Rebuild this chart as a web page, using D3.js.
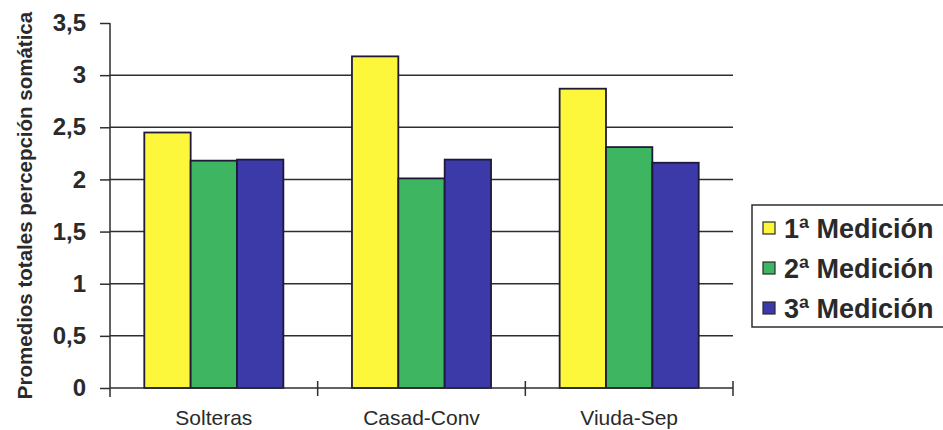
<!DOCTYPE html>
<html>
<head>
<meta charset="utf-8">
<script src="https://cdn.jsdelivr.net/npm/d3@7"></script>
<style>
  html, body { margin: 0; padding: 0; background: #fff; }
  svg { display: block; }
  text { font-family: "Liberation Sans", Arial, sans-serif; fill: #2a2a2a; }
</style>
</head>
<body>
<svg id="chart" width="943" height="430"></svg>
<script>
// Groups and the three measurement series
const categories = ["Solteras", "Casad-Conv", "Viuda-Sep"];
const seriesNames = ["1ª Medición", "2ª Medición", "3ª Medición"];
const medicion1 = [2.45, 3.18, 2.87];
const medicion2 = [2.18, 2.01, 2.31];
const medicion3 = [2.19, 2.19, 2.16];
const yTicks = [0, 0.5, 1, 1.5, 2, 2.5, 3, 3.5];
const yTitle = "Promedios totales percepción somática";
const colors = ["#fcf73a", "#3db561", "#3c3aa9"];

const series = [medicion1, medicion2, medicion3];
const rows = categories.map((c, i) => ({
  category: c,
  values: series.map((s, k) => ({ key: seriesNames[k], k, value: s[i] }))
}));

const svg = d3.select("#chart");
const plot = { left: 110, right: 733, top: 23, bottom: 388 };

const x0 = d3.scaleBand().domain(categories).range([plot.left, plot.right]).padding(0);
const x1 = d3.scaleBand().domain(seriesNames).range([0, x0.bandwidth()])
  .paddingInner(0).paddingOuter(0.74);
const y = d3.scaleLinear().domain([0, 3.5]).range([plot.bottom, plot.top]);
const fmt = d => String(d).replace(".", ",");
const axisColor = "#2e2e2e";

// Horizontal gridlines (none at the top of the scale)
svg.append("g")
  .selectAll("line")
  .data(yTicks.filter(t => t > 0 && t < 3.5))
  .join("line")
  .attr("x1", plot.left).attr("x2", plot.right)
  .attr("y1", d => y(d)).attr("y2", d => y(d))
  .attr("stroke", axisColor).attr("stroke-width", 1.5);

// Bars
const groups = svg.append("g").selectAll("g")
  .data(rows).join("g")
  .attr("transform", d => `translate(${x0(d.category)},0)`);
groups.selectAll("rect")
  .data(d => d.values).join("rect")
  .attr("x", d => x1(d.key))
  .attr("y", d => y(d.value))
  .attr("width", x1.bandwidth())
  .attr("height", d => y(0) - y(d.value))
  .attr("fill", d => colors[d.k])
  .attr("stroke", "#1d1a3a").attr("stroke-width", 1.8);

// Y axis
const yAxis = svg.append("g")
  .attr("transform", `translate(${plot.left},0)`)
  .call(d3.axisLeft(y).tickValues(yTicks).tickFormat(fmt).tickSize(10).tickPadding(14));
yAxis.select(".domain").remove();
yAxis.selectAll(".tick line").attr("stroke", axisColor).attr("stroke-width", 1.5);
yAxis.selectAll(".tick text")
  .style("font-family", "'Liberation Sans', Arial, sans-serif")
  .style("font-size", "24px").style("font-weight", "bold").attr("fill", "#2a2a2a");
svg.append("line")
  .attr("x1", plot.left).attr("x2", plot.left)
  .attr("y1", plot.top).attr("y2", plot.bottom + 9)
  .attr("stroke", axisColor).attr("stroke-width", 1.5);

// X axis with ticks crossing the baseline between groups
const xAxis = svg.append("g")
  .attr("transform", `translate(0,${plot.bottom})`);
xAxis.append("line")
  .attr("x1", plot.left).attr("x2", plot.right)
  .attr("stroke", axisColor).attr("stroke-width", 1.5);
const bounds = categories.map(c => x0(c) + x0.bandwidth());
xAxis.selectAll("line.sep").data(bounds).join("line")
  .attr("class", "sep")
  .attr("x1", d => d).attr("x2", d => d)
  .attr("y1", -7).attr("y2", 8)
  .attr("stroke", axisColor).attr("stroke-width", 1.5);
xAxis.selectAll("text").data(categories).join("text")
  .attr("x", d => x0(d) + x0.bandwidth() / 2)
  .attr("y", 37)
  .attr("text-anchor", "middle")
  .style("font-size", "21px")
  .text(d => d);

// Y axis title
svg.append("text")
  .attr("transform", `translate(32,${(10 + 401) / 2}) rotate(-90)`)
  .attr("text-anchor", "middle")
  .style("font-size", "20.5px").style("font-weight", "bold")
  .text(yTitle);

// Legend
const legend = svg.append("g").attr("transform", "translate(752,205)");
legend.append("rect")
  .attr("x", 0).attr("y", 0).attr("width", 200).attr("height", 122)
  .attr("fill", "#fff").attr("stroke", axisColor).attr("stroke-width", 1.5);
const items = legend.selectAll("g.item").data(seriesNames).join("g")
  .attr("class", "item")
  .attr("transform", (d, i) => `translate(0,${23 + i * 40})`);
items.append("rect")
  .attr("x", 11).attr("y", -6).attr("width", 12).attr("height", 12)
  .attr("fill", (d, i) => colors[i])
  .attr("stroke", "#2a2a2a").attr("stroke-width", 1.2);
items.append("text")
  .attr("x", 32).attr("y", 10)
  .style("font-size", "27px").style("font-weight", "bold")
  .text(d => d);
</script>
</body>
</html>
